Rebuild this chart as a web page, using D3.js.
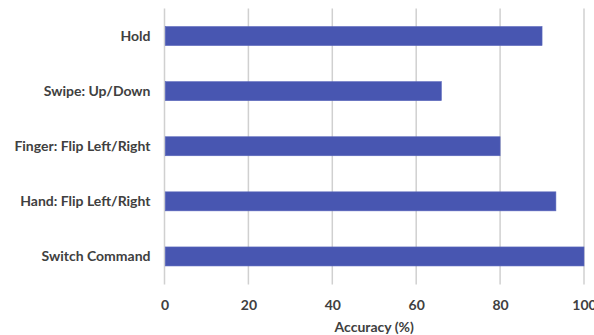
<!DOCTYPE html>
<html>
<head>
<meta charset="utf-8">
<script src="https://cdn.jsdelivr.net/npm/d3@7"></script>
<style>
  html, body { margin: 0; padding: 0; background: #fff; }
  svg text { font-family: Lato, "Open Sans", sans-serif; font-weight: 700; fill: #404040; }
</style>
</head>
<body>
<svg id="chart" width="594" height="335"></svg>
<script>
// Gesture recognition accuracy
const gestures = ["Hold", "Swipe: Up/Down", "Finger: Flip Left/Right", "Hand: Flip Left/Right", "Switch Command"];
const accuracy = [90, 66, 80, 93.3, 100];
const xTicks = [0, 20, 40, 60, 80, 100];
const xTitle = "Accuracy (%)";

const svg = d3.select("#chart");
const margin = { left: 164.5, right: 10, top: 8.5, bottom: 51 };
const W = 594, H = 335;
const fontSize = 14;

const x = d3.scaleLinear().domain([0, 100]).range([margin.left, 584]);
const y = d3.scaleBand().domain(gestures).range([margin.top, H - margin.bottom]).paddingInner(0.655).paddingOuter(0.3275);

// vertical gridlines
svg.append("g")
  .selectAll("line")
  .data(xTicks)
  .join("line")
  .attr("x1", d => x(d)).attr("x2", d => x(d))
  .attr("y1", margin.top).attr("y2", H - margin.bottom + 0.5)
  .attr("stroke", "#d0d0d0")
  .attr("stroke-width", 1.5);

// bars
svg.append("g")
  .selectAll("rect")
  .data(gestures)
  .join("rect")
  .attr("x", x(0) + 0.75)
  .attr("y", d => y(d))
  .attr("width", (d, i) => x(accuracy[i]) - x(0) - 0.75)
  .attr("height", y.bandwidth())
  .attr("fill", "#4856b1")
  .attr("stroke", "#5a67bc")
  .attr("stroke-width", 0.6);

// category labels
const yAxis = d3.axisLeft(y).tickSize(0).tickPadding(14);
const gy = svg.append("g").attr("transform", `translate(${x(0)},0)`).call(yAxis);
gy.select(".domain").remove();
gy.selectAll("text").attr("font-size", fontSize).style("font-family", "Lato, 'Open Sans', sans-serif").style("font-weight", 700).attr("fill", "#404040");

// value axis
const xAxis = d3.axisBottom(x).tickValues(xTicks).tickSize(0).tickPadding(16);
const gx = svg.append("g").attr("transform", `translate(0,${H - margin.bottom})`).call(xAxis);
gx.select(".domain").remove();
gx.selectAll("text").attr("font-size", fontSize).style("font-family", "Lato, 'Open Sans', sans-serif").style("font-weight", 700).attr("fill", "#404040");

svg.append("text")
  .attr("x", x(50))
  .attr("y", 332)
  .attr("text-anchor", "middle")
  .attr("font-size", fontSize)
  .text(xTitle);
</script>
</body>
</html>
